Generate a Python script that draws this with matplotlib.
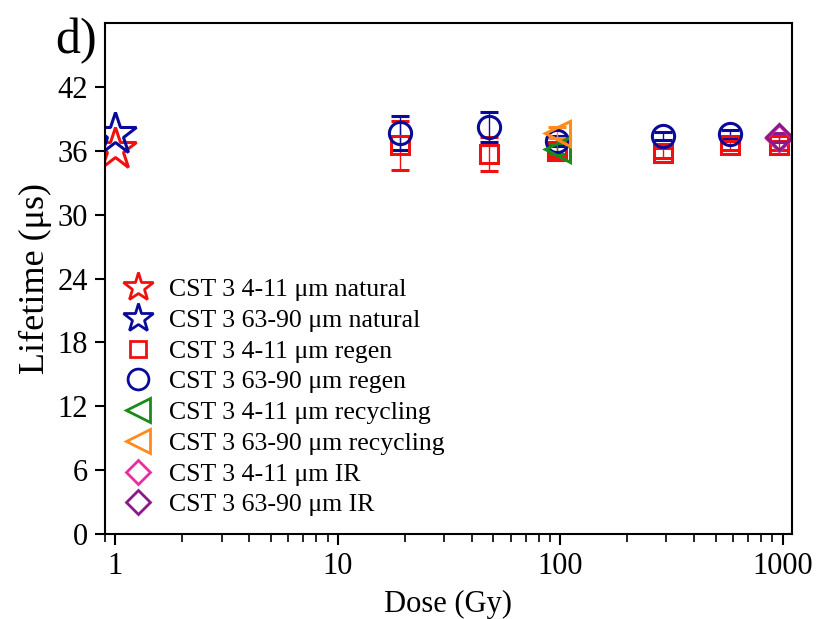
import matplotlib
matplotlib.use("Agg")
import matplotlib.pyplot as plt
from matplotlib.lines import Line2D
from matplotlib.ticker import LogLocator, FixedLocator, NullFormatter

plt.rcParams['font.family'] = ['Liberation Serif', 'DejaVu Serif']
plt.rcParams['mathtext.fontset'] = 'stix'

# Lifetime data (microseconds) versus dose (Gy)
nat_dose = [1]
nat_fine = [36.2]
nat_coarse = [37.6]

regen_dose_fine = [19, 48, 97, 290, 580, 960]
regen_fine = [36.5, 35.7, 36.0, 35.8, 36.5, 36.5]
regen_fine_err = [2.3, 1.6, 0.6, 0.5, 0.4, 0.4]

regen_dose_coarse = [19, 48, 97, 290, 580]
regen_coarse = [37.7, 38.2, 36.9, 37.4, 37.55]
regen_coarse_err = [1.6, 1.4, 0.5, 0.4, 0.4]

recyc_dose = [97]
recyc_fine = [36.2]
recyc_fine_err = [0.5]
recyc_coarse = [37.7]
recyc_coarse_err = [0.5]

ir_dose = [960]
ir_fine = [37.2]
ir_fine_err = [0.4]
ir_coarse = [37.25]
ir_coarse_err = [0.4]

labels = [
    "CST 3 4-11 \u03bcm natural",
    "CST 3 63-90 \u03bcm natural",
    "CST 3 4-11 \u03bcm regen",
    "CST 3 63-90 \u03bcm regen",
    "CST 3 4-11 \u03bcm recycling",
    "CST 3 63-90 \u03bcm recycling",
    "CST 3 4-11 \u03bcm IR",
    "CST 3 63-90 \u03bcm IR",
]

RED = "#f01010"
BLUE = "#0a0a9a"
GREEN = "#1a8a1a"
ORANGE = "#ff8c1a"
PINK = "#ec2d9c"
PURPLE = "#8a1a8a"

fig = plt.figure(figsize=(8.18, 6.19), dpi=100)
ax = fig.add_axes([0.128, 0.137, 0.840, 0.826])

mew = 2.2
ebkw = dict(linestyle='none', capsize=6.5, elinewidth=1.0, capthick=1.0,
            markerfacecolor='none', markeredgewidth=mew)

ax.plot(nat_dose, nat_fine, linestyle='none', marker='*', ms=32,
        mfc='none', mec=RED, mew=mew)
ax.plot(nat_dose, nat_coarse, linestyle='none', marker='*', ms=32,
        mfc='none', mec=BLUE, mew=mew)
ax.errorbar(regen_dose_fine, regen_fine, yerr=regen_fine_err, marker='s', ms=12.5,
            color=RED, markeredgecolor=RED, **ebkw)
ax.errorbar(regen_dose_coarse, regen_coarse, yerr=regen_coarse_err, marker='o', ms=16,
            color=BLUE, markeredgecolor=BLUE, **ebkw)
ax.errorbar(recyc_dose, recyc_fine, yerr=recyc_fine_err, marker='<', ms=18,
            color=GREEN, markeredgecolor=GREEN, **ebkw)
ax.errorbar(recyc_dose, recyc_coarse, yerr=recyc_coarse_err, marker='<', ms=18,
            color=ORANGE, markeredgecolor=ORANGE, **ebkw)
ax.errorbar(ir_dose, ir_fine, yerr=ir_fine_err, marker='D', ms=13,
            color=PINK, markeredgecolor=PINK, **ebkw)
ax.errorbar(ir_dose, ir_coarse, yerr=ir_coarse_err, marker='D', ms=13,
            color=PURPLE, markeredgecolor=PURPLE, **ebkw)

ax.set_xscale('log')
ax.set_xlim(0.895, 1100)
ax.set_ylim(0, 48)
ax.yaxis.set_major_locator(FixedLocator([0, 6, 12, 18, 24, 30, 36, 42]))
ax.xaxis.set_major_locator(FixedLocator([1, 10, 100, 1000]))
ax.set_xticklabels(["1", "10", "100", "1000"])
ax.xaxis.set_minor_locator(LogLocator(base=10, subs=range(2, 10), numticks=20))
ax.xaxis.set_minor_formatter(NullFormatter())

for s in ax.spines.values():
    s.set_linewidth(1.5)
ax.tick_params(axis='both', which='major', direction='out', width=1.5,
               length=7, labelsize=22, top=False, right=False)
ax.tick_params(axis='x', which='minor', direction='out', width=1.2, length=5.5,
               top=False)
ax.tick_params(axis='x', which='major', length=8, pad=5)
ax.tick_params(axis='y', which='major', pad=5)

ax.set_xlabel("Dose (Gy)", fontsize=22, labelpad=6)
ax.set_ylabel("Lifetime (\u03bcs)", fontsize=26, labelpad=4)

handles = [
    Line2D([], [], linestyle='none', marker='*', ms=22, mfc='none', mec=RED, mew=2),
    Line2D([], [], linestyle='none', marker='*', ms=22, mfc='none', mec=BLUE, mew=2),
    Line2D([], [], linestyle='none', marker='s', ms=12, mfc='none', mec=RED, mew=2),
    Line2D([], [], linestyle='none', marker='o', ms=15, mfc='none', mec=BLUE, mew=2),
    Line2D([], [], linestyle='none', marker='<', ms=17, mfc='none', mec=GREEN, mew=2),
    Line2D([], [], linestyle='none', marker='<', ms=17, mfc='none', mec=ORANGE, mew=2),
    Line2D([], [], linestyle='none', marker='D', ms=12, mfc='none', mec=PINK, mew=2),
    Line2D([], [], linestyle='none', marker='D', ms=12, mfc='none', mec=PURPLE, mew=2),
]
ax.legend(handles, labels, loc='lower left', bbox_to_anchor=(0.0, 0.0),
          frameon=False, fontsize=18.5, handlelength=1.2, handletextpad=0.6,
          labelspacing=0.30, borderaxespad=0.2, borderpad=0.5)

fig.text(55 / 818, 1 - 53 / 619, "d)", fontsize=36, ha='left', va='baseline')

fig.savefig("out.png", dpi=100)
